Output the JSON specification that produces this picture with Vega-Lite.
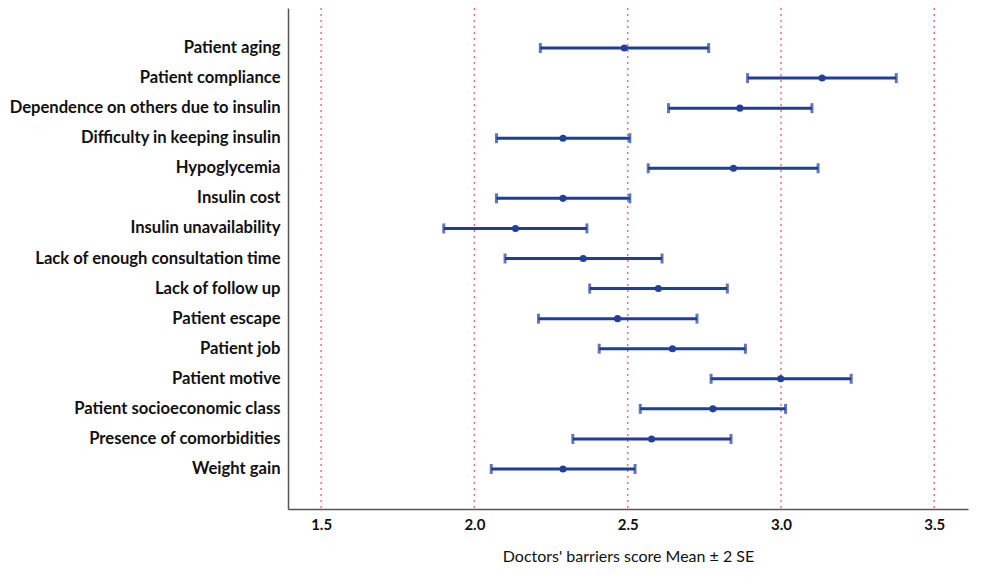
{
  "$schema": "https://vega.github.io/schema/vega-lite/v6.json",
  "autosize": "none",
  "width": 680,
  "height": 501,
  "padding": {"left": 288, "top": 8, "right": 18, "bottom": 70},
  "background": "white",
  "config": {
    "view": {"stroke": null},
    "font": "Lato"
  },
  "data": {
    "values": [
      {"barrier": "Patient aging", "low": 2.215, "mean": 2.489, "high": 2.764},
      {"barrier": "Patient compliance", "low": 2.891, "mean": 3.134, "high": 3.376},
      {"barrier": "Dependence on others due to insulin", "low": 2.633, "mean": 2.866, "high": 3.101},
      {"barrier": "Difficulty in keeping insulin", "low": 2.072, "mean": 2.289, "high": 2.507},
      {"barrier": "Hypoglycemia", "low": 2.567, "mean": 2.845, "high": 3.121},
      {"barrier": "Insulin cost", "low": 2.072, "mean": 2.289, "high": 2.507},
      {"barrier": "Insulin unavailability", "low": 1.900, "mean": 2.134, "high": 2.367},
      {"barrier": "Lack of enough consultation time", "low": 2.100, "mean": 2.355, "high": 2.612},
      {"barrier": "Lack of follow up", "low": 2.376, "mean": 2.600, "high": 2.825},
      {"barrier": "Patient escape", "low": 2.209, "mean": 2.467, "high": 2.726},
      {"barrier": "Patient job", "low": 2.407, "mean": 2.646, "high": 2.884},
      {"barrier": "Patient motive", "low": 2.772, "mean": 2.999, "high": 3.229},
      {"barrier": "Patient socioeconomic class", "low": 2.541, "mean": 2.778, "high": 3.015},
      {"barrier": "Presence of comorbidities", "low": 2.321, "mean": 2.578, "high": 2.837},
      {"barrier": "Weight gain", "low": 2.055, "mean": 2.289, "high": 2.524}
    ]
  },
  "encoding": {
    "y": {
      "field": "barrier",
      "type": "nominal",
      "sort": null,
      "scale": {"type": "band", "paddingInner": 0, "paddingOuter": 0.83},
      "axis": {
        "title": null,
        "ticks": false,
        "domainColor": "#555555",
        "domainWidth": 1.5,
        "labelFont": "Lato",
        "labelFontSize": 16.6,
        "labelFontWeight": "bold",
        "labelColor": "#111111",
        "labelPadding": 8,
        "labelLimit": 300,
        "grid": false
      }
    }
  },
  "layer": [
    {
      "mark": {"type": "rule", "color": "#f07070", "strokeDash": [2, 4], "strokeWidth": 1.5},
      "data": {"values": [{"g": 1.5}, {"g": 2.0}, {"g": 2.5}, {"g": 3.0}, {"g": 3.5}]},
      "encoding": {
        "x": {"field": "g", "type": "quantitative", "scale": {"domain": [1.392, 3.61], "nice": false, "zero": false}},
        "y": null
      }
    },
    {
      "mark": {"type": "rule", "color": "#1f3d99", "strokeWidth": 3},
      "encoding": {
        "x": {
          "field": "low",
          "type": "quantitative",
          "scale": {"domain": [1.392, 3.61], "nice": false, "zero": false},
          "axis": {
            "title": "Doctors' barriers score Mean ± 2 SE",
            "values": [1.5, 2.0, 2.5, 3.0, 3.5],
            "format": ".1f",
            "ticks": false,
            "grid": false,
            "domainColor": "#555555",
            "domainWidth": 1.5,
            "labelFont": "Lato",
            "labelFontSize": 15,
            "labelFontWeight": "bold",
            "labelColor": "#111111",
            "labelPadding": 8,
            "titleFont": "Lato",
            "titleFontSize": 16,
            "titleFontWeight": "normal",
            "titleColor": "#111111",
            "titlePadding": 16
          }
        },
        "x2": {"field": "high"}
      }
    },
    {
      "mark": {"type": "tick", "color": "#1f3d99", "orient": "vertical", "thickness": 3, "size": 10},
      "encoding": {"x": {"field": "low", "type": "quantitative"}}
    },
    {
      "mark": {"type": "tick", "color": "#1f3d99", "orient": "vertical", "thickness": 3, "size": 10},
      "encoding": {"x": {"field": "high", "type": "quantitative"}}
    },
    {
      "mark": {"type": "circle", "color": "#22409a", "opacity": 1, "size": 50},
      "encoding": {"x": {"field": "mean", "type": "quantitative"}}
    }
  ]
}
